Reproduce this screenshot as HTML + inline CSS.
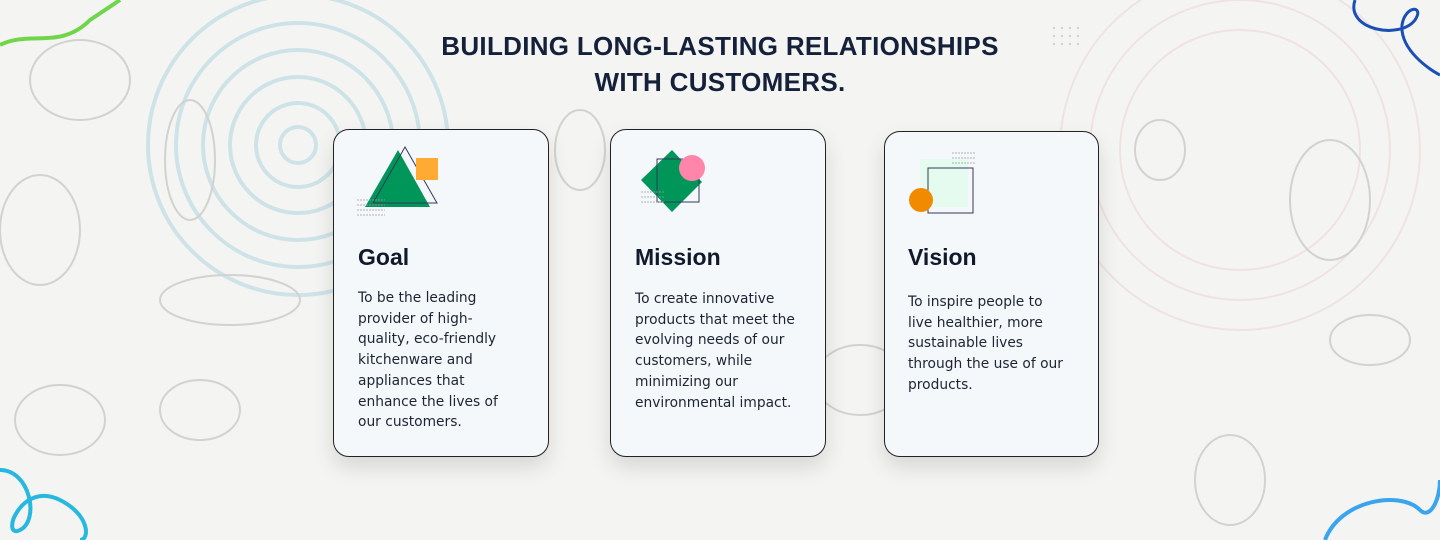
<!DOCTYPE html>
<html><head><style>
body{margin:0;width:1440px;height:540px;overflow:hidden;background:#f4f4f2;font-family:"Liberation Sans",sans-serif;position:relative}
.t{position:absolute;left:0;width:1440px;text-align:center;top:28px;font-weight:bold;font-size:26px;line-height:36px;color:#15213a;letter-spacing:0.3px}
.c{position:absolute;background:#f5f8fb;border:1.3px solid #222;border-radius:16px;box-shadow:0 10px 22px rgba(0,0,0,0.12)}
.h{position:absolute;font-weight:bold;font-size:23px;color:#111a2c}
.p{position:absolute;line-height:20.7px;color:#1d2433;font-family:"DejaVu Sans","Liberation Sans",sans-serif;font-size:13.8px}
svg{position:absolute;left:0;top:0}
</style></head><body>
<svg width="1440" height="540">
<g fill="none" stroke="#b5d9e2" stroke-width="4" opacity="0.6">
<circle cx="298" cy="145" r="18"/><circle cx="298" cy="145" r="42"/><circle cx="298" cy="145" r="68"/><circle cx="298" cy="145" r="95"/><circle cx="298" cy="145" r="122"/><circle cx="298" cy="145" r="150"/>
</g>
<g fill="none" stroke="#ecd8d8" stroke-width="2" opacity="0.6">
<circle cx="1240" cy="150" r="120"/><circle cx="1240" cy="150" r="150"/><circle cx="1240" cy="150" r="180"/>
</g>
<g fill="none" stroke="#d2d2d0" stroke-width="2">
<ellipse cx="40" cy="230" rx="40" ry="55"/><ellipse cx="190" cy="160" rx="25" ry="60"/><ellipse cx="230" cy="300" rx="70" ry="25"/>
<ellipse cx="60" cy="420" rx="45" ry="35"/><ellipse cx="200" cy="410" rx="40" ry="30"/><ellipse cx="1330" cy="200" rx="40" ry="60"/>
<ellipse cx="1230" cy="480" rx="35" ry="45"/><ellipse cx="1370" cy="340" rx="40" ry="25"/><ellipse cx="580" cy="150" rx="25" ry="40"/>
<ellipse cx="860" cy="380" rx="45" ry="35"/><ellipse cx="1160" cy="150" rx="25" ry="30"/><ellipse cx="80" cy="80" rx="50" ry="40"/>
</g>
<path d="M0 45 C30 30 60 50 90 20 L120 0" stroke="#6fd64a" stroke-width="4" fill="none"/>
<path d="M1355 0 C1345 30 1400 40 1415 20 C1425 5 1405 5 1402 25 C1400 50 1430 70 1440 75" stroke="#1a4fb5" stroke-width="3" fill="none"/>
<path d="M0 470 C30 470 40 520 20 530 C0 540 20 480 60 500 C90 515 90 540 80 540" stroke="#27b8e0" stroke-width="4" fill="none"/>
<path d="M1325 540 C1340 500 1400 490 1420 510 C1430 520 1440 500 1440 480" stroke="#3aa4ee" stroke-width="4" fill="none"/>
<g fill="#aaa"><circle cx="1054" cy="28" r="0.8"/><circle cx="1062" cy="28" r="0.8"/><circle cx="1070" cy="28" r="0.8"/><circle cx="1078" cy="28" r="0.8"/><circle cx="1054" cy="36" r="0.8"/><circle cx="1062" cy="36" r="0.8"/><circle cx="1070" cy="36" r="0.8"/><circle cx="1078" cy="36" r="0.8"/><circle cx="1054" cy="44" r="0.8"/><circle cx="1062" cy="44" r="0.8"/><circle cx="1070" cy="44" r="0.8"/><circle cx="1078" cy="44" r="0.8"/></g>
</svg>
<div class="t">BUILDING LONG-LASTING RELATIONSHIPS<br>WITH CUSTOMERS.</div>
<div class="c" style="left:333px;top:129px;width:214px;height:326px"></div>
<div class="c" style="left:610px;top:129px;width:214px;height:326px"></div>
<div class="c" style="left:884px;top:131px;width:213px;height:324px"></div>
<svg width="1440" height="540">
<polygon points="365,207 398,150 430,207" fill="#00965a"/>
<polygon points="405,147 437,203 373,203" fill="none" stroke="#33395a" stroke-width="1"/>
<rect x="416" y="158" width="22" height="22" fill="#ffab33"/>
<g stroke="#999" stroke-width="0.8" fill="none"><path d="M357 200 h28 M357 205 h28 M357 210 h28 M357 215 h28" stroke-dasharray="2 1"/></g>
<polygon points="672,150 702,182 672,212 641,180" fill="#00965a"/>
<rect x="657" y="159" width="42" height="43" fill="none" stroke="#33395a" stroke-width="1"/>
<circle cx="692" cy="168" r="13" fill="#ff85ab"/>
<g stroke="#999" stroke-width="0.8"><path d="M641 192 h24 M641 197 h24 M641 202 h24" stroke-dasharray="2 1"/></g>
<rect x="920" y="159" width="48" height="48" fill="#e6fbef"/>
<rect x="928" y="168" width="45" height="45" fill="none" stroke="#33395a" stroke-width="1"/>
<ellipse cx="921" cy="200" rx="12" ry="12" fill="#f28a00"/>
<g stroke="#999" stroke-width="0.8"><path d="M952 153 h24 M952 158 h24 M952 163 h24" stroke-dasharray="2 1"/></g>
</svg>
<div class="h" style="left:358px;top:244px">Goal</div>
<div class="h" style="left:635px;top:244px">Mission</div>
<div class="h" style="left:908px;top:244px">Vision</div>
<div class="p" style="left:358px;top:288px;width:180px">To be the leading<br>provider of high-<br>quality, eco-friendly<br>kitchenware and<br>appliances that<br>enhance the lives of<br>our customers.</div>
<div class="p" style="left:635px;top:289px;width:185px">To create innovative<br>products that meet the<br>evolving needs of our<br>customers, while<br>minimizing our<br>environmental impact.</div>
<div class="p" style="left:908px;top:292px;width:180px">To inspire people to<br>live healthier, more<br>sustainable lives<br>through the use of our<br>products.</div>
</body></html>
